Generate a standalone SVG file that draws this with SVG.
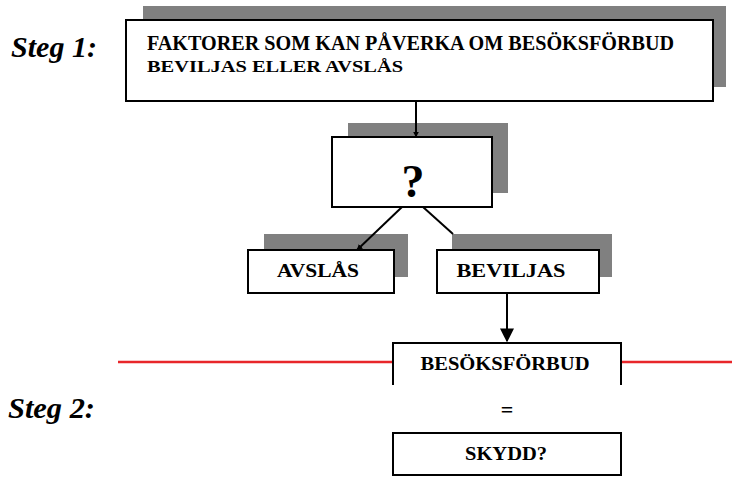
<svg xmlns="http://www.w3.org/2000/svg" width="732" height="478" viewBox="0 0 732 478">
<defs>
<style>
.shadow{fill:#808080}
.box{fill:#fff;stroke:#000;stroke-width:2}
.t{font-family:"Liberation Serif","DejaVu Serif",serif;font-weight:bold;fill:#000}
.step{font-family:"Liberation Serif","DejaVu Serif",serif;font-weight:bold;font-style:italic;fill:#000;font-size:29px}
.conn{stroke:#000;stroke-width:2;fill:none}
.red{stroke:#e8262a;stroke-width:2.5;fill:none}
</style>
<marker id="ah" viewBox="0 0 10 10" refX="9" refY="5" markerWidth="6" markerHeight="6" orient="auto" markerUnits="userSpaceOnUse">
<path d="M0,0 L10,5 L0,10 z" fill="#000"/>
</marker>
<marker id="ahBig" viewBox="0 0 10 10" refX="9" refY="5" markerWidth="14" markerHeight="16" orient="auto" markerUnits="userSpaceOnUse">
<path d="M0,0 L10,5 L0,10 z" fill="#000"/>
</marker>
</defs>
<rect width="732" height="478" fill="#fff"/>

<g id="labels">
<text class="step" x="11" y="57" textLength="86" lengthAdjust="spacingAndGlyphs">Steg 1:</text>
<text class="step" x="8" y="418" textLength="87" lengthAdjust="spacingAndGlyphs">Steg 2:</text>
</g>

<g id="red-line">
<line class="red" x1="118" y1="362" x2="393" y2="362"/>
<line class="red" x1="621" y1="362" x2="732" y2="362"/>
</g>

<g id="node-faktorer">
<rect class="shadow" x="143" y="6" width="583" height="81"/>
<rect class="box" x="126" y="20" width="587" height="81"/>
<text class="t" x="147" y="50" font-size="21" textLength="527" lengthAdjust="spacingAndGlyphs">FAKTORER SOM KAN PÅVERKA OM BESÖKSFÖRBUD</text>
<text class="t" x="147" y="72" font-size="17" textLength="256" lengthAdjust="spacingAndGlyphs">BEVILJAS ELLER AVSLÅS</text>
</g>

<g id="node-question">
<rect class="shadow" x="348" y="123" width="160" height="70"/>
<rect class="box" x="332" y="137" width="160" height="70"/>
</g>

<g id="node-avslas">
<rect class="shadow" x="264" y="234" width="144" height="43"/>
<rect class="box" x="248" y="250" width="146" height="43"/>
<text class="t" x="318" y="277" font-size="18" text-anchor="middle" textLength="82" lengthAdjust="spacingAndGlyphs">AVSLÅS</text>
</g>

<g id="node-beviljas">
<rect class="shadow" x="452" y="234" width="160" height="43"/>
<rect class="box" x="437" y="250" width="162" height="43"/>
<text class="t" x="511" y="277" font-size="18" text-anchor="middle" textLength="109" lengthAdjust="spacingAndGlyphs">BEVILJAS</text>
</g>

<g id="connectors">
<line class="conn" x1="416" y1="101" x2="416" y2="137" marker-end="url(#ah)"/>
<line class="conn" x1="402" y1="207" x2="357" y2="250" marker-end="url(#ah)"/>
<line class="conn" x1="423" y1="207" x2="453" y2="234"/>
<line class="conn" x1="507" y1="293" x2="507" y2="341" marker-end="url(#ahBig)"/>
</g>

<g id="node-question-text">
<text class="t" x="413" y="197" font-size="46" text-anchor="middle">?</text>
</g>

<g id="node-besoksforbud">
<rect x="393" y="343" width="228" height="42" fill="#fff"/>
<path class="conn" d="M393,385 L393,343 L621,343 L621,385"/>
<text class="t" x="505" y="370" font-size="18" text-anchor="middle" textLength="169" lengthAdjust="spacingAndGlyphs">BESÖKSFÖRBUD</text>
</g>

<g id="node-equals">
<text class="t" x="507" y="417" font-size="22" text-anchor="middle">=</text>
</g>

<g id="node-skydd">
<rect class="box" x="393" y="433" width="228" height="42"/>
<text class="t" x="506" y="460" font-size="18" text-anchor="middle" textLength="82" lengthAdjust="spacingAndGlyphs">SKYDD?</text>
</g>
</svg>
